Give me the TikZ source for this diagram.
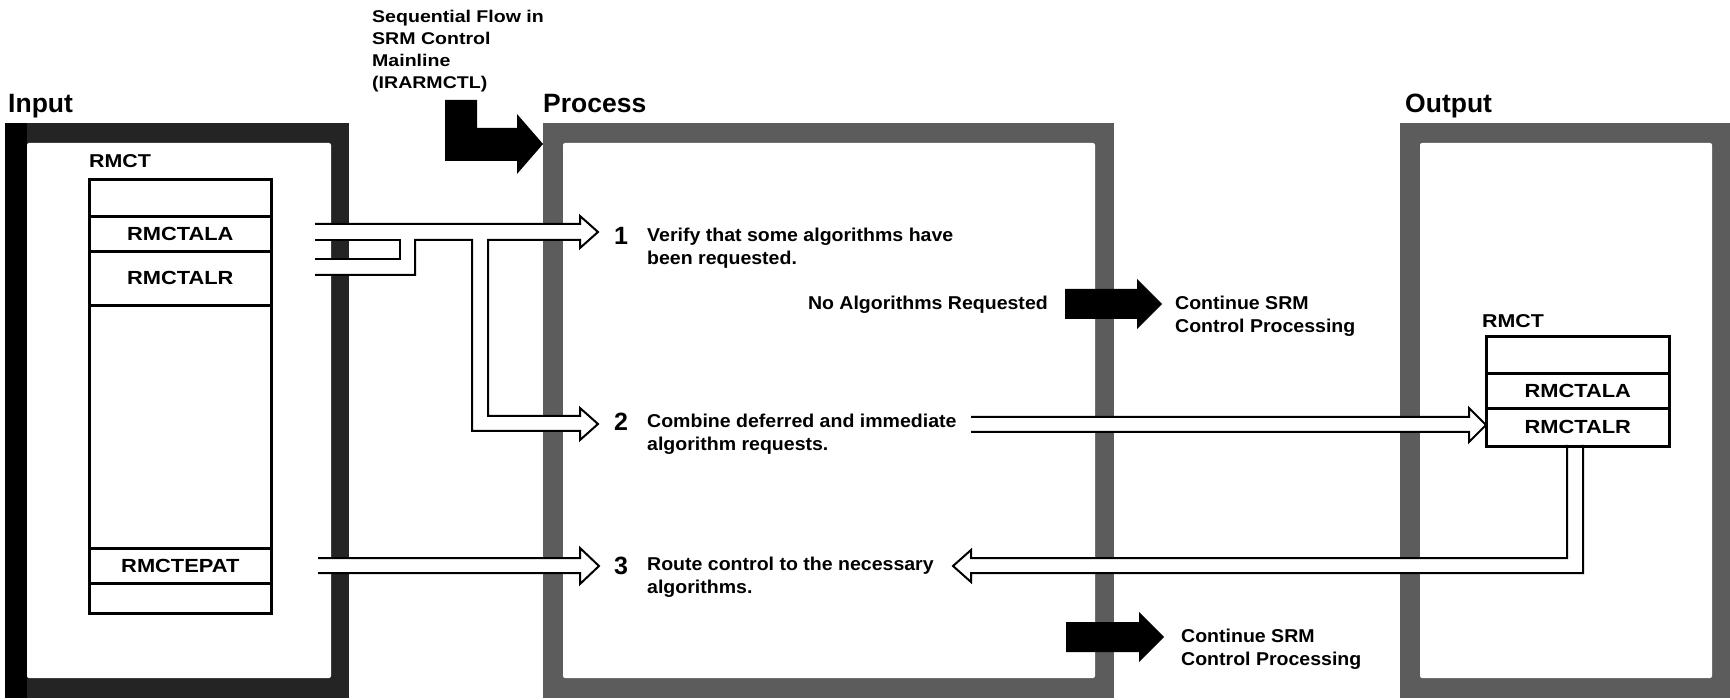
\documentclass[tikz,border=0pt]{standalone}
\usepackage{fontspec}
\setmainfont{Liberation Sans}
\newfontfamily\widefont[FakeStretch=1.15]{Liberation Sans}
\newfontfamily\stepfont[FakeStretch=1.05]{Liberation Sans}
\begin{document}
\begin{tikzpicture}[x=1pt,y=-1pt,
  heading/.style={anchor=base west, inner sep=0pt, font=\fontsize{26.5}{30}\selectfont\bfseries},
  cell/.style={draw, line width=2.6pt, anchor=north west, inner sep=0pt, minimum width=182pt,
    font=\widefont\fontsize{19}{22}\selectfont\bfseries},
  tablabel/.style={anchor=base west, inner sep=0pt, font=\widefont\fontsize{18.6}{22}\selectfont\bfseries},
  stepnum/.style={anchor=base, inner sep=0pt, font=\fontsize{25}{25}\selectfont\bfseries},
  steptext/.style={anchor=north west, inner sep=0pt, align=left,
    font=\stepfont\fontsize{18.6}{23.5}\selectfont\bfseries},
  hollow/.style={line width=2pt, line join=miter},
  solid arrow/.style={fill=black},
  framein/.style={fill=black!86},
  frameout/.style={fill=black!64}
]
\useasboundingbox (0,0) rectangle (1730,700);

% ---- frames ----
\fill[framein] (5,123) rectangle (349,698);
\fill[black] (5,123) rectangle (27,698);
\fill[white, rounded corners=2pt] (27,143) rectangle (331,678);

\fill[frameout] (543,123) rectangle (1114,698);
\fill[white, rounded corners=2pt] (563,143) rectangle (1095,678);

\fill[frameout] (1400,123) rectangle (1730,698);
\fill[white, rounded corners=2pt] (1420,143) rectangle (1712,678);

% ---- headings ----
\node[heading] (hin) at (8,113) {Input};
\node[heading] (hproc) at (543,113) {Process};
\node[heading] (hout) at (1405,113) {Output};

% ---- sequential flow entry ----
\node[anchor=north west, inner sep=0pt, align=left,
  font=\widefont\fontsize{17}{22}\selectfont\bfseries] (seq) at (372,9.8)
  {Sequential Flow in\\SRM Control\\Mainline\\(IRARMCTL)};
\fill[solid arrow] (445,100) -- (477,100) -- (477,128) -- (517,128) -- (517,114)
  -- (543,144) -- (517,174) -- (517,161) -- (445,161) -- cycle;

% ---- hollow arrows from RMCTALA / RMCTALR to steps 1 and 2 ----
\fill[white, even odd rule]
  (315,224) -- (580,224) -- (580,216) -- (598,232) -- (580,248) -- (580,240)
  -- (488,240) -- (488,416) -- (580,416) -- (580,408) -- (598,424) -- (580,440)
  -- (580,431) -- (472,431) -- (472,240) -- (415,240) -- (415,275) -- (315,275) -- cycle
  (315,240) -- (400,240) -- (400,259) -- (315,259) -- cycle;
\draw[hollow]
  (315,224) -- (580,224) -- (580,216) -- (598,232) -- (580,248) -- (580,240)
  -- (488,240) -- (488,416) -- (580,416) -- (580,408) -- (598,424) -- (580,440)
  -- (580,431) -- (472,431) -- (472,240) -- (415,240) -- (415,275) -- (315,275);
\draw[hollow] (315,240) -- (400,240) -- (400,259) -- (315,259);

% ---- hollow arrow from RMCTEPAT to step 3 ----
\fill[white] (318,558) -- (580,558) -- (580,548) -- (599,566) -- (580,584) -- (580,573) -- (318,573) -- cycle;
\draw[hollow] (318,558) -- (580,558) -- (580,548) -- (599,566) -- (580,584) -- (580,573) -- (318,573);

% ---- hollow arrow from step 2 to output RMCTALR ----
\fill[white] (971,417) -- (1469,417) -- (1469,408) -- (1486,425) -- (1469,442) -- (1469,432) -- (971,432) -- cycle;
\draw[hollow] (971,417) -- (1469,417) -- (1469,408) -- (1486,425) -- (1469,442) -- (1469,432) -- (971,432);

% ---- hollow arrow from output table back to step 3 ----
\fill[white] (1583,445) -- (1583,573) -- (971,573) -- (971,582) -- (953,566) -- (971,550)
  -- (971,558) -- (1567,558) -- (1567,445) -- cycle;
\draw[hollow] (1583,445) -- (1583,573) -- (971,573) -- (971,582) -- (953,566) -- (971,550)
  -- (971,558) -- (1567,558) -- (1567,445);

% ---- solid exit arrows ----
\fill[solid arrow] (1065,289) -- (1137,289) -- (1137,279) -- (1162,304) -- (1137,329)
  -- (1137,319) -- (1065,319) -- cycle;
\fill[solid arrow] (1066,622) -- (1139,622) -- (1139,612) -- (1164,637) -- (1139,662)
  -- (1139,652) -- (1066,652) -- cycle;

% ---- input RMCT ----
\node[tablabel] (inlab) at (89,168) {RMCT};
\node[cell, minimum height=37pt] (in0) at (88,178) {};
\node[cell, minimum height=35pt] (inala) at (88,215) {RMCTALA};
\node[cell, minimum height=54pt] (inalr) at (88,250) {RMCTALR};
\node[cell, minimum height=243pt] (inmid) at (88,304) {};
\node[cell, minimum height=35pt] (inepat) at (88,547) {RMCTEPAT};
\node[cell, minimum height=30pt] (inend) at (88,582) {};

% ---- output RMCT ----
\node[tablabel] (outlab) at (1482,328) {RMCT};
\node[cell, minimum width=183pt, minimum height=37pt] (out0) at (1485,335) {};
\node[cell, minimum width=183pt, minimum height=35pt] (outala) at (1485,372) {RMCTALA};
\node[cell, minimum width=183pt, minimum height=38pt] (outalr) at (1485,407) {RMCTALR};

% ---- process steps ----
\node[stepnum] (n1) at (621,245) {1};
\node[steptext] (s1) at (647,227.6) {Verify that some algorithms have\\been requested.};
\node[stepnum] (n2) at (621,431) {2};
\node[steptext] (s2) at (647,413.6) {Combine deferred and immediate\\algorithm requests.};
\node[stepnum] (n3) at (621,574) {3};
\node[steptext] (s3) at (647,556.6) {Route control to the necessary\\algorithms.};

\node[anchor=base east, inner sep=0pt, font=\stepfont\fontsize{18.6}{23.5}\selectfont\bfseries]
  (noalg) at (1048,310) {No Algorithms Requested};
\node[steptext] (cont1) at (1175,295.6) {Continue SRM\\Control Processing};
\node[steptext] (cont2) at (1181,628.6) {Continue SRM\\Control Processing};
\end{tikzpicture}
\end{document}
